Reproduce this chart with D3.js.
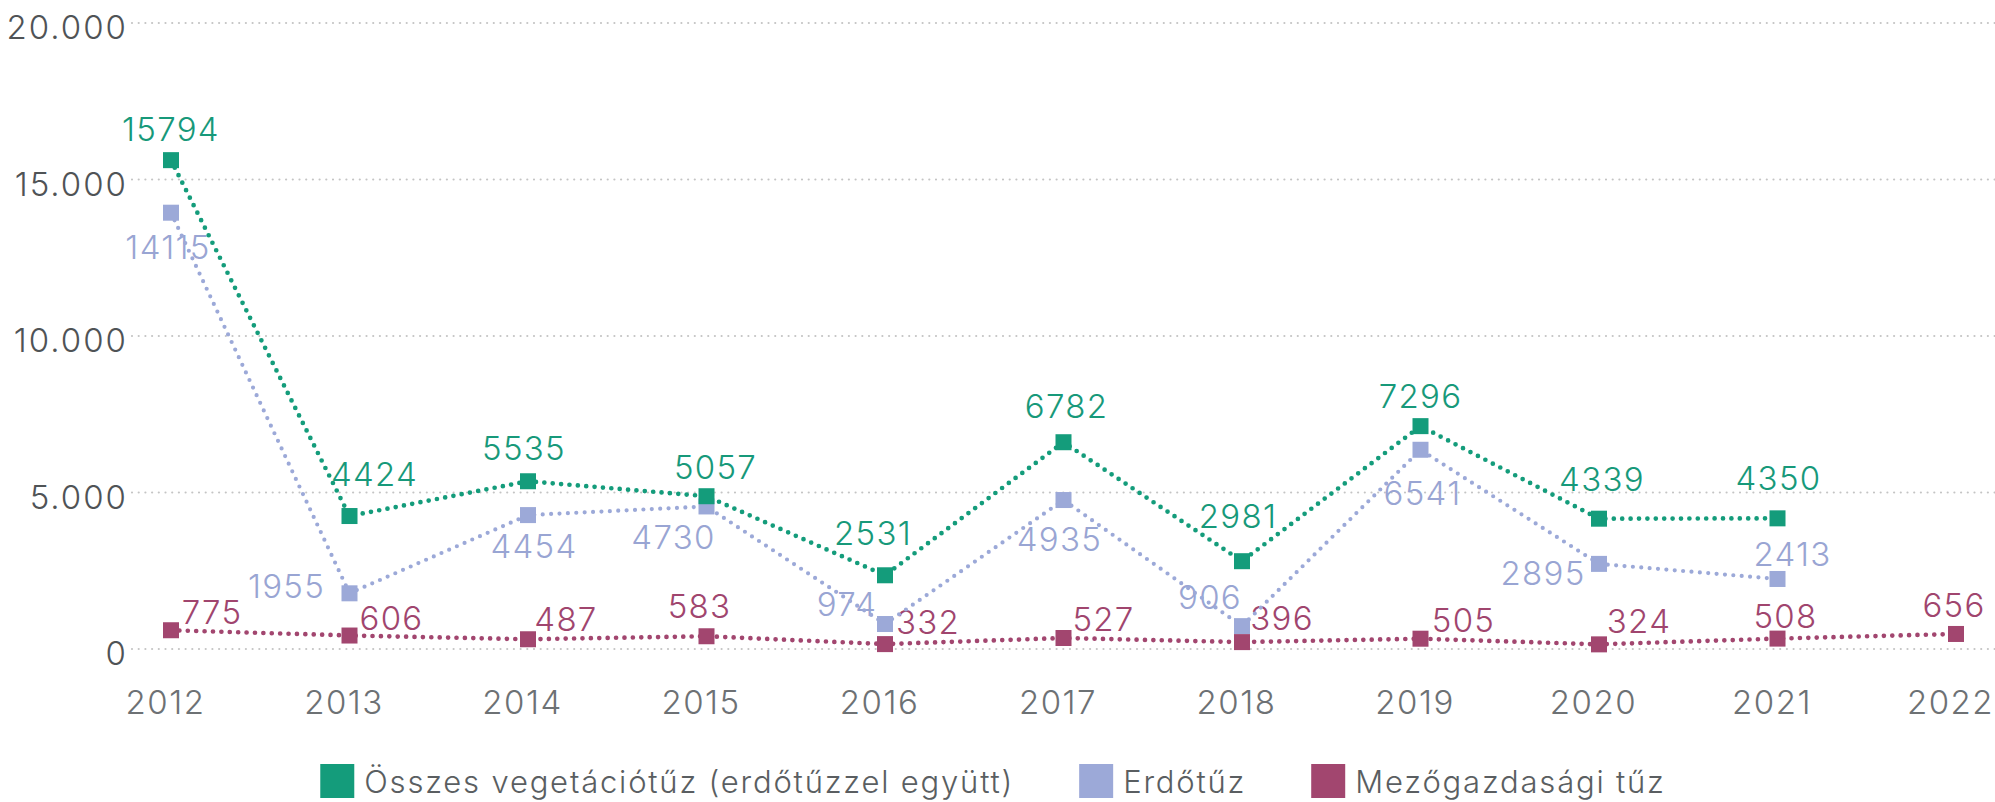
<!DOCTYPE html>
<html>
<head>
<meta charset="utf-8">
<script src="https://cdn.jsdelivr.net/npm/d3@7"></script>
<style>
  html, body { margin: 0; padding: 0; background: #ffffff; }
  svg { display: block; font-family: Inter, "Open Sans", Lato, sans-serif; font-weight: 300; }
</style>
</head>
<body>
<svg id="chart" width="1995" height="802"></svg>
<script>
// ---- Data ----
const years = [2012, 2013, 2014, 2015, 2016, 2017, 2018, 2019, 2020, 2021, 2022];
const totalFires  = [15794, 4424, 5535, 5057, 2531, 6782, 2981, 7296, 4339, 4350, null];
const forestFires = [14115, 1955, 4454, 4730, 974, 4935, 906, 6541, 2895, 2413, null];
const agriFires   = [775, 606, 487, 583, 332, 527, 396, 505, 324, 508, 656];
const seriesNames = ["Összes vegetációtűz (erdőtűzzel együtt)", "Erdőtűz", "Mezőgazdasági tűz"];
const yTicks = [0, 5000, 10000, 15000, 20000];
const yTickLabels = ["0", "5.000", "10.000", "15.000", "20.000"];

// ---- Layout / style (not data) ----
const colors = ["#149c7b", "#9ca9d8", "#a2466f"];
const labelColors = ["#17997a", "#99a5d3", "#a0456e"];
// per-label nudges [dx, dy] relative to marker centre (text centred)
const nudgeTotal  = [[0,-19],[25,-30],[-4,-21],[9,-17],[-12,-30],[3,-24],[-4,-33],[0,-18],[3,-28],[1,-28],[0,0]];
const nudgeForest = [[-3,46],[-63,5],[6,43],[-33,43],[-38,-8],[-4,51],[-32,-17],[2,55],[-56,21],[15,-13],[0,0]];
const nudgeAgri   = [[41,-6],[42,-6],[38,-8],[-7,-18],[43,-10],[40,-7],[40,-12],[43,-7],[40,-11],[8,-11],[-2,-17]];

const svg = d3.select("#chart");
const W = 1995;

const x = d3.scaleLinear().domain([2012, 2022]).range([171, 1956]);
const y = d3.scaleLinear().domain([0, 20000]).range([648.5, 22.5]);

// ---- Y grid + labels ----
const yAxis = d3.axisLeft(y)
  .tickValues(yTicks)
  .tickFormat((d, i) => yTickLabels[i])
  .tickSize(-(W - 132))
  .tickPadding(2);

const gy = svg.append("g").attr("transform", "translate(132,0)").call(yAxis);
gy.select(".domain").remove();
gy.selectAll(".tick line")
  .attr("stroke", "#c4c4c4")
  .attr("stroke-width", 2.2)
  .attr("stroke-linecap", "round")
  .attr("stroke-dasharray", "0 6.7");
gy.selectAll(".tick text")
  .attr("fill", "#4f5356")
  .attr("font-size", 33)
  .attr("font-family", "Inter, 'Open Sans', sans-serif")
  .attr("font-weight", 300)
  .attr("letter-spacing", 2)
  .attr("dy", 16)
  .attr("x", -4);

// ---- X axis labels ----
const xAxis = d3.axisBottom(x).tickValues(years).tickFormat(d3.format("d")).tickSize(0);
const gx = svg.append("g").attr("transform", "translate(0,648.5)").call(xAxis);
gx.select(".domain").remove();
gx.selectAll(".tick text")
  .attr("fill", "#6d7174")
  .attr("font-size", 33)
  .attr("font-family", "Inter, 'Open Sans', sans-serif")
  .attr("font-weight", 300)
  .attr("letter-spacing", 1.5)
  .attr("y", 65)
  .attr("dy", 0)
  .attr("x", -6);

// ---- Series ----
const series = [
  { name: seriesNames[1], values: forestFires, color: colors[1], lc: labelColors[1], nudge: nudgeForest, r: 4.2 },
  { name: seriesNames[2], values: agriFires,   color: colors[2], lc: labelColors[2], nudge: nudgeAgri,   r: 4.7 },
  { name: seriesNames[0], values: totalFires,  color: colors[0], lc: labelColors[0], nudge: nudgeTotal,  r: 4.7 }
];

const marks = svg.append("g").attr("transform", "translate(0,6)");
const labelLayer = marks.append("g");
const lineLayer = marks.append("g");

series.forEach(s => {
  const pts = years.map((yr, i) => ({ yr, v: s.values[i], i })).filter(d => d.v != null);

  labelLayer.selectAll(null).data(pts).enter().append("text")
    .attr("x", d => x(d.yr) + s.nudge[d.i][0])
    .attr("y", d => y(d.v) + s.nudge[d.i][1])
    .attr("text-anchor", "middle")
    .attr("fill", s.lc)
    .attr("font-size", 33)
    .attr("font-weight", 300)
    .attr("letter-spacing", 1.3)
    .text(d => d.v);

  const line = d3.line().x(d => x(d.yr)).y(d => y(d.v));
  const g = lineLayer.append("g");
  g.append("path")
    .datum(pts)
    .attr("d", line)
    .attr("fill", "none")
    .attr("stroke", s.color)
    .attr("stroke-width", s.r)
    .attr("stroke-linecap", "round")
    .attr("stroke-dasharray", "0 8.4");
  g.selectAll("rect").data(pts).enter().append("rect")
    .attr("x", d => x(d.yr) - 8)
    .attr("y", d => y(d.v) - 8)
    .attr("width", 16)
    .attr("height", 16)
    .attr("fill", s.color);
});

// ---- Legend ----
const legendItems = [
  { name: seriesNames[0], color: colors[0] },
  { name: seriesNames[1], color: colors[1] },
  { name: seriesNames[2], color: colors[2] }
];
const legend = svg.append("g");
let cx = 0;
legendItems.forEach((it, i) => {
  const g = legend.append("g").attr("transform", `translate(${cx},0)`);
  g.append("rect").attr("x", 0).attr("y", 764).attr("width", 34).attr("height", 34).attr("fill", it.color);
  const t = g.append("text")
    .attr("x", 44).attr("y", 793)
    .attr("fill", "#5a5e61")
    .attr("font-size", 31)
    .attr("font-weight", 300)
    .attr("letter-spacing", 1.8)
    .text(it.name);
  const w = t.node().getComputedTextLength();
  cx += 44 + w + 65;
});
const totalW = cx - 65;
legend.attr("transform", `translate(${993 - totalW / 2},0)`);
</script>
</body>
</html>
